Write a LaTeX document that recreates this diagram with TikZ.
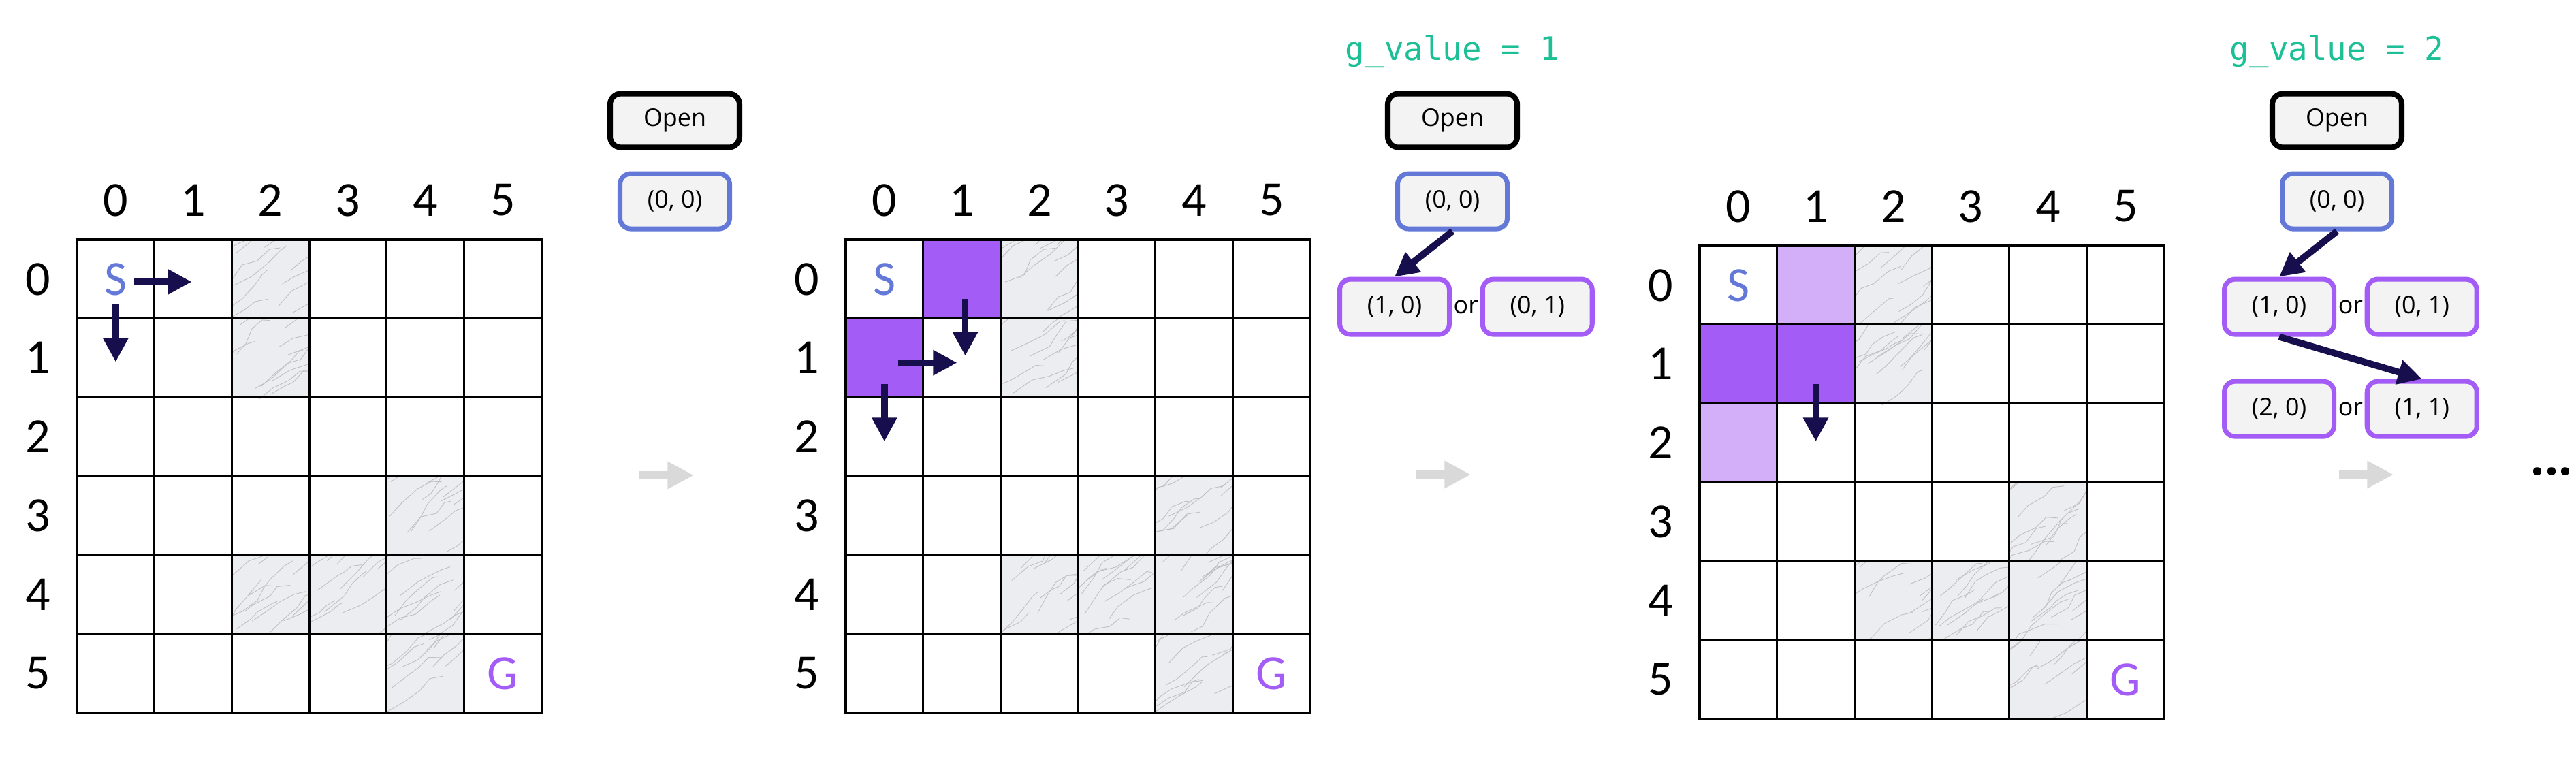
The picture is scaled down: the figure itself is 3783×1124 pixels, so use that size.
\documentclass[tikz,border=0pt]{standalone}
\usepackage{fontspec}
\setmainfont{Carlito}
\newfontfamily\boxfont{Open Sans}
\newfontfamily\codefont{DejaVu Sans Mono}
\usetikzlibrary{positioning,calc,arrows.meta,backgrounds}
\usepackage{xcolor}
\definecolor{startblue}{RGB}{100,120,216}
\definecolor{goalpurple}{RGB}{163,92,245}
\definecolor{lightpurple}{RGB}{211,175,249}
\definecolor{navy}{RGB}{23,15,77}
\definecolor{teal}{RGB}{29,192,150}
\definecolor{boxgray}{RGB}{243,243,243}
\definecolor{flowgray}{RGB}{217,217,217}
\definecolor{marble}{RGB}{236,237,240}

\begin{document}
\begin{tikzpicture}[
    x=0.1mm, y=-0.1mm, % one unit = one pixel of the reference
    cell/.style={draw, line width=0.9pt, minimum width=11.37mm, minimum height=11.58mm, inner sep=0pt}, % grid square
    axis/.style={font=\fontsize{20.5}{24}\selectfont}, % row and column numbers
    wall/.style={fill=marble}, % obstacle
    vein/.style={draw=gray!50, line width=0.25pt}, % marble texture
    visited/.style={fill=goalpurple}, % expanded cell
    frontier/.style={fill=lightpurple}, % candidate cell
    move/.style={draw=navy, line width=2.8pt, -{Triangle[length=10pt,width=10pt]}}, % step arrow
    flow/.style={draw=flowgray, line width=3.6pt, -{Triangle[length=11pt,width=10.8pt]}}, % next panel
    qbox/.style={draw, fill=boxgray, rounded corners=4.5pt, line width=2pt, minimum width=16.1mm, minimum height=8.1mm, inner sep=0pt, font=\boxfont\fontsize{10.2}{12}\selectfont},
    openbox/.style={qbox, draw=black, line width=2.3pt, minimum width=19mm, minimum height=7.9mm}, % Open list header
    startbox/.style={qbox, draw=startblue}, % start node
    nextbox/.style={qbox, draw=goalpurple}, % child node
    ortext/.style={inner sep=0.2mm, font=\boxfont\fontsize{10.2}{12}\selectfont},
    gval/.style={text=teal, inner sep=0pt, anchor=base, font=\codefont\fontsize{13.5}{16}\selectfont}
]
\useasboundingbox (0,0) rectangle (3783,1124);
\pgfmathsetseed{42}

% the three grids
\foreach \g/\ox/\oy in {a/113/352, b/1242/352, c/2496/361}{
    \foreach \row in {0,...,5}{
        \foreach \col in {0,...,5}{
            \node[cell] (\g-\row-\col) at ({\ox+(\col+0.5)*113.7}, {\oy+(\row+0.5)*115.8}) {};
        }
        \node[axis] at ({\ox-57}, {\oy+(\row+0.5)*115.8}) {\row};
        \node[axis] at ({\ox+(\row+0.5)*113.7}, {\oy-58}) {\row};
    }
    \node[axis, text=startblue] at (\g-0-0) {S};
    \node[axis, text=goalpurple] at (\g-5-5) {G};
}

% obstacles and visited cells
\begin{scope}[on background layer]
\foreach \g in {a,b,c}{
    \foreach \row/\col in {0/2, 1/2, 3/4, 4/2, 4/3, 4/4, 5/4}{
        \fill[wall] (\g-\row-\col.north west) rectangle (\g-\row-\col.south east);
        \begin{scope}
            \clip (\g-\row-\col.north west) rectangle (\g-\row-\col.south east);
            \foreach \k in {1,...,12}
                \draw[vein] ($(\g-\row-\col.south west)+(rnd*130-25, -rnd*120+10)$) -- ++(12+rnd*18, -8-rnd*16) -- ++(8+rnd*18, -4-rnd*18) -- ++(10+rnd*16, -8-rnd*14) -- ++(6+rnd*14, 2-rnd*10);
        \end{scope}
    }
}
\fill[visited] (b-0-1.north west) rectangle (b-0-1.south east);
\fill[visited] (b-1-0.north west) rectangle (b-1-0.south east);
\fill[visited] (c-1-0.north west) rectangle (c-1-1.south east);
\fill[frontier] (c-0-1.north west) rectangle (c-0-1.south east);
\fill[frontier] (c-2-0.north west) rectangle (c-2-0.south east);
\end{scope}

% moves inside the grids
\draw[move] ($(a-0-0)+(27,4)$) -- ($(a-0-1)+(-2,4)$);
\draw[move] ($(a-0-0)+(0,37)$) -- ($(a-1-0)+(0,6)$);
\draw[move] ($(b-0-1)+(5,29)$) -- ($(b-1-1)+(5,-3)$);
\draw[move] ($(b-1-0)+(20,7)$) -- ($(b-1-1)+(-7,7)$);
\draw[move] ($(b-1-0)+(0,38)$) -- ($(b-2-0)+(0,7)$);
\draw[move] ($(c-1-1)+(0,29)$) -- ($(c-2-1)+(0,-2)$);

% panel 1: open list
\node[openbox] (aopen) at (991,177) {Open};
\node[startbox, below=3.1mm of aopen] (aq00) {(0, 0)};

% panel 2: open list
\node[openbox] (bopen) at (2133,177) {Open};
\node[gval] (bgval) at ($(bopen.north)+(0,-44.5)$) {g\_value = 1};
\node[startbox, below=3.1mm of bopen] (bq00) {(0, 0)};
\node[nextbox, below=6.7mm of bq00, xshift=-8.5mm] (bq10) {(1, 0)};
\node[ortext, right=0pt of bq10] (bor1) {or};
\node[nextbox, right=0pt of bor1] (bq01) {(0, 1)};
\draw[move] (bq00.south) -- (bq10.north);

% panel 3: open list
\node[openbox] (copen) at (3432,177) {Open};
\node[gval] (cgval) at ($(copen.north)+(0,-44.5)$) {g\_value = 2};
\node[startbox, below=3.1mm of copen] (cq00) {(0, 0)};
\node[nextbox, below=6.7mm of cq00, xshift=-8.5mm] (cq10) {(1, 0)};
\node[ortext, right=0pt of cq10] (cor1) {or};
\node[nextbox, right=0pt of cor1] (cq01) {(0, 1)};
\node[nextbox, below=6.2mm of cq10] (cq20) {(2, 0)};
\node[ortext, right=0pt of cq20] (cor2) {or};
\node[nextbox, right=0pt of cor2] (cq11) {(1, 1)};
\draw[move] (cq00.south) -- (cq10.north);
\draw[move] (cq10.south) -- (cq11.north);

% flow between panels
\coordinate (aflow) at (939,698);
\coordinate (bflow) at (2079,697);
\coordinate (cflow) at (3435,697);
\draw[flow] (aflow) -- ++(80,0) coordinate (aflowend);
\draw[flow] (bflow) -- ++(81,0) coordinate (bflowend);
\draw[flow] (cflow) -- ++(80,0) coordinate (cflowend);
\node[anchor=base, inner sep=0pt, font=\boxfont\bfseries\fontsize{20}{24}\selectfont] (more) at (3747,697) {...};
\end{tikzpicture}
\end{document}
